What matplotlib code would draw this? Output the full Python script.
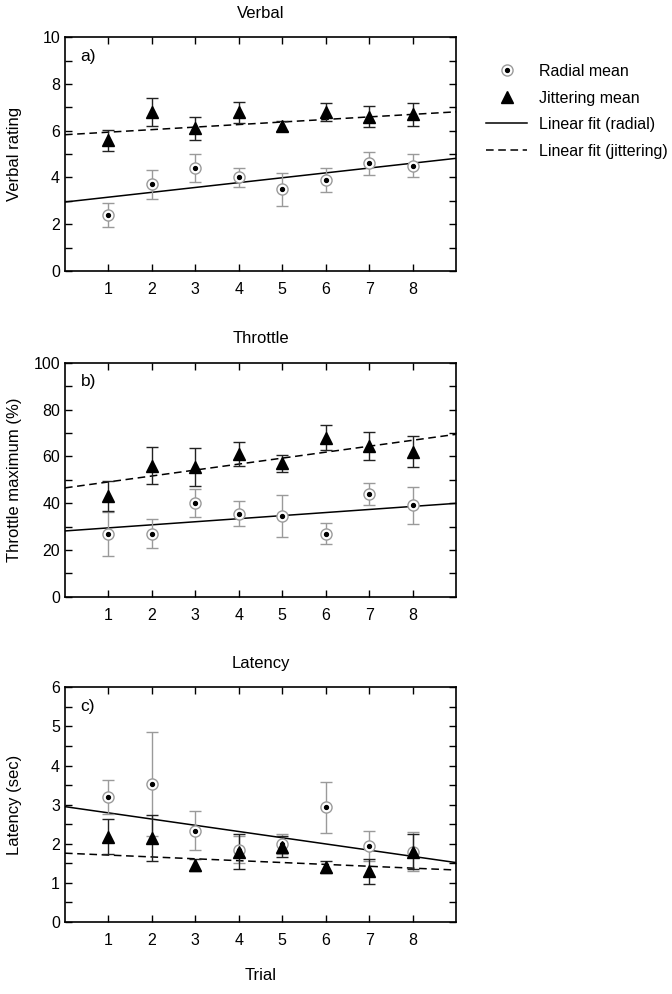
import numpy as np
import matplotlib
matplotlib.use("Agg")
import matplotlib.pyplot as plt
from matplotlib.lines import Line2D
from matplotlib.legend_handler import HandlerTuple
from matplotlib.ticker import MultipleLocator

plt.rcParams['font.family'] = ['Liberation Sans', 'DejaVu Sans']
plt.rcParams['font.size'] = 10

# === data ===
trials = [1, 2, 3, 4, 5, 6, 7, 8]

verbal_radial = [2.4, 3.7, 4.4, 4.0, 3.5, 3.9, 4.6, 4.5]
verbal_radial_err = [0.5, 0.6, 0.6, 0.4, 0.7, 0.5, 0.5, 0.5]
verbal_jitter = [5.6, 6.8, 6.1, 6.8, 6.2, 6.8, 6.6, 6.7]
verbal_jitter_err = [0.45, 0.6, 0.5, 0.45, 0.2, 0.4, 0.45, 0.5]
verbal_fit_radial = (2.95, 4.82)   # value at x=0 and x=9
verbal_fit_jitter = (5.83, 6.81)

throttle_radial = [27, 27, 40, 35.5, 34.5, 27, 44, 39]
throttle_radial_err = [9.4, 6, 6, 5.2, 8.8, 4.3, 4.6, 8]
throttle_jitter = [43, 56, 55.5, 61, 57, 68, 64.5, 62]
throttle_jitter_err = [6.5, 8, 8, 5, 3.5, 5.5, 6, 6.5]
throttle_fit_radial = (28.1, 39.9)
throttle_fit_jitter = (46.5, 69.4)

latency_radial = [3.2, 3.53, 2.34, 1.85, 2.0, 2.93, 1.95, 1.8]
latency_radial_err = [0.43, 1.33, 0.5, 0.35, 0.25, 0.66, 0.38, 0.5]
latency_jitter = [2.18, 2.15, 1.45, 1.8, 1.93, 1.4, 1.3, 1.8]
latency_jitter_err = [0.45, 0.58, 0.15, 0.45, 0.28, 0.15, 0.32, 0.45]
latency_fit_radial = (2.95, 1.52)
latency_fit_jitter = (1.76, 1.33)

panels = [
    ("Verbal", "Verbal rating", "a)", (0, 10), 2, 1,
     verbal_radial, verbal_radial_err, verbal_jitter, verbal_jitter_err,
     verbal_fit_radial, verbal_fit_jitter),
    ("Throttle", "Throttle maximum (%)", "b)", (0, 100), 20, 10,
     throttle_radial, throttle_radial_err, throttle_jitter, throttle_jitter_err,
     throttle_fit_radial, throttle_fit_jitter),
    ("Latency", "Latency (sec)", "c)", (0, 6), 1, 0.5,
     latency_radial, latency_radial_err, latency_jitter, latency_jitter_err,
     latency_fit_radial, latency_fit_jitter),
]

fig = plt.figure(figsize=(6.72, 9.94), dpi=100)
boxes = [(0.0967, 0.7274, 0.582, 0.2351),
         (0.0967, 0.3997, 0.582, 0.2354),
         (0.0967, 0.0724, 0.582, 0.2361)]

gray = '#9a9a9a'
axes = []
for box, p in zip(boxes, panels):
    (title, ylab, tag, ylim, major, minor,
     rad, rad_err, jit, jit_err, fit_r, fit_j) = p
    ax = fig.add_axes(box)
    axes.append(ax)

    xfit = [0, 9]
    ax.plot(xfit, fit_r, '-', color='black', lw=1.1, zorder=2)
    ax.plot(xfit, fit_j, '--', color='black', lw=1.1, dashes=(5, 3), zorder=2)

    ax.errorbar(trials, rad, yerr=rad_err, fmt='none', ecolor=gray,
                elinewidth=1, capsize=4, capthick=1, zorder=3)
    ax.errorbar(trials, jit, yerr=jit_err, fmt='none', ecolor='#222222',
                elinewidth=1, capsize=4, capthick=1, zorder=3)
    ax.plot(trials, rad, 'o', ms=8, mfc='white', mec=gray, mew=1, zorder=4)
    ax.plot(trials, rad, 'o', ms=2.8, color='black', zorder=5)
    ax.plot(trials, jit, '^', ms=8, color='black', zorder=6)

    ax.set_xlim(0, 9)
    ax.set_ylim(*ylim)
    ax.set_xticks(trials)
    ax.yaxis.set_major_locator(MultipleLocator(major))
    ax.yaxis.set_minor_locator(MultipleLocator(minor))
    ax.tick_params(which='both', direction='in', top=True, right=True,
                   labelsize=11.5)
    ax.tick_params(which='major', length=5, width=1)
    ax.tick_params(which='minor', length=5, width=1)
    ax.tick_params(axis='x', pad=8)
    for s in ax.spines.values():
        s.set_linewidth(1.2)
    ax.set_title(title, fontsize=12, pad=14)
    ax.set_ylabel(ylab, fontsize=12)
    ax.yaxis.set_label_coords(-0.11, 0.5)
    ax.text(0.04, 0.9, tag, transform=ax.transAxes, fontsize=12.5)

axes[2].set_xlabel("Trial", fontsize=12, labelpad=14)

h_rad = (Line2D([], [], ls='none', marker='o', ms=8, mfc='white', mec=gray, mew=1),
         Line2D([], [], ls='none', marker='o', ms=2.8, color='black'))
h_jit = Line2D([], [], ls='none', marker='^', ms=8, color='black')
h_lr = Line2D([], [], ls='-', color='black', lw=1.1)
h_lj = Line2D([], [], ls='--', color='black', lw=1.1, dashes=(5, 3))
fig.legend([h_rad, h_jit, h_lr, h_lj],
           ["Radial mean", "Jittering mean", "Linear fit (radial)",
            "Linear fit (jittering)"],
           handler_map={tuple: HandlerTuple(ndivide=1, pad=0)},
           loc='upper left', bbox_to_anchor=(0.7015, 0.95), frameon=False,
           fontsize=11.5, handlelength=2.6, labelspacing=0.72, handletextpad=0.75)

fig.savefig("out.png", dpi=100)
